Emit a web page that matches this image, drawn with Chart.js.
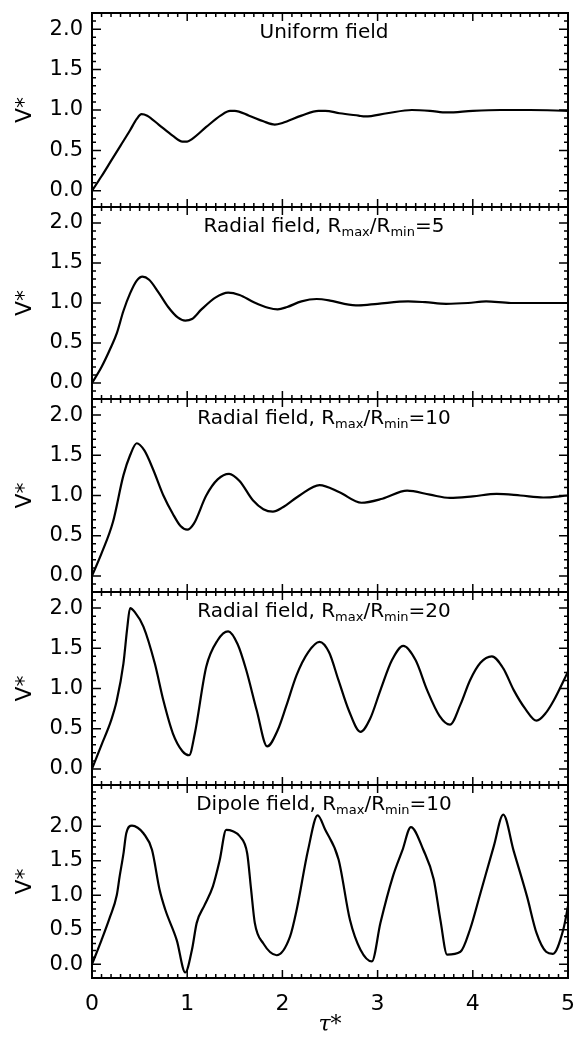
<!DOCTYPE html>
<html>
<head>
<meta charset="utf-8">
<script src="https://cdn.jsdelivr.net/npm/chart.js@4"></script>
<style>
  html, body { margin: 0; padding: 0; background: #fff; }
  #wrap { position: relative; width: 575px; height: 1038px; }
  #wrap canvas { position: absolute; left: 0; }
</style>
</head>
<body>
<div id="wrap"></div>
<script>
// tau* / V* readings, one pair per panel
const tauUniform = [0,0.1,0.2,0.3,0.4,0.47,0.52,0.58,0.7,0.85,0.95,1.0,1.05,1.2,1.35,1.45,1.5,1.65,1.8,1.92,2.0,2.2,2.38,2.45,2.6,2.8,2.87,3.1,3.36,3.55,3.73,4.0,4.29,4.6,5.0];
const vUniform   = [0,0.18,0.37,0.56,0.75,0.89,0.95,0.93,0.82,0.68,0.61,0.61,0.64,0.79,0.93,0.99,0.99,0.93,0.86,0.82,0.84,0.93,0.99,0.99,0.96,0.93,0.92,0.96,1.0,0.99,0.97,0.99,1.0,1.0,0.99];

const tauRadial5 = [0,0.1,0.2,0.26,0.33,0.4,0.47,0.53,0.6,0.7,0.8,0.9,0.98,1.05,1.15,1.3,1.43,1.55,1.7,1.85,1.95,2.05,2.2,2.36,2.5,2.65,2.8,3.0,3.32,3.5,3.72,3.95,4.14,4.4,4.7,5.0];
const vRadial5   = [0,0.2,0.45,0.62,0.9,1.12,1.28,1.33,1.29,1.13,0.95,0.82,0.78,0.8,0.92,1.07,1.13,1.1,1.01,0.94,0.92,0.95,1.02,1.05,1.03,0.99,0.97,0.99,1.02,1.01,0.99,1.0,1.02,1.0,1.0,1.0];

const tauRadial10 = [0,0.1,0.22,0.33,0.4,0.47,0.55,0.64,0.75,0.85,0.93,1.0,1.07,1.2,1.32,1.44,1.55,1.69,1.8,1.9,2.0,2.18,2.39,2.6,2.83,3.05,3.31,3.55,3.76,4.0,4.25,4.5,4.74,5.0];
const vRadial10   = [0,0.28,0.67,1.25,1.5,1.65,1.56,1.33,1.0,0.77,0.62,0.575,0.65,1.0,1.2,1.27,1.18,0.94,0.83,0.8,0.85,1.0,1.13,1.04,0.91,0.96,1.06,1.01,0.97,0.99,1.02,1.0,0.975,1.0];

const tauRadial20 = [0,0.1,0.2,0.26,0.33,0.37,0.40,0.45,0.54,0.66,0.75,0.85,0.95,1.02,1.08,1.2,1.32,1.43,1.53,1.62,1.73,1.84,1.95,2.04,2.15,2.27,2.39,2.49,2.59,2.7,2.82,2.92,3.03,3.15,3.27,3.4,3.52,3.65,3.76,3.87,3.97,4.08,4.2,4.32,4.43,4.55,4.67,4.77,4.85,5.0];
const vRadial20   = [0,0.3,0.6,0.85,1.31,1.75,2.0,1.95,1.77,1.31,0.85,0.44,0.22,0.17,0.44,1.27,1.6,1.71,1.55,1.23,0.73,0.28,0.48,0.78,1.17,1.45,1.58,1.45,1.1,0.72,0.46,0.62,0.98,1.35,1.53,1.35,0.98,0.66,0.55,0.8,1.1,1.32,1.4,1.25,0.98,0.75,0.6,0.7,0.85,1.21];

const tauDipole10 = [0,0.1,0.19,0.26,0.29,0.33,0.36,0.42,0.48,0.54,0.63,0.71,0.77,0.89,0.98,1.05,1.1,1.18,1.27,1.34,1.41,1.48,1.55,1.63,1.67,1.71,1.8,1.94,2.08,2.15,2.27,2.37,2.45,2.59,2.71,2.82,2.94,3.03,3.16,3.26,3.35,3.48,3.59,3.66,3.73,3.87,3.97,4.08,4.22,4.32,4.43,4.57,4.67,4.77,4.84,4.95,5.0];
const vDipole10   = [0,0.35,0.69,1.0,1.27,1.6,1.9,2.01,1.98,1.9,1.66,1.08,0.79,0.35,-0.12,0.21,0.6,0.85,1.13,1.5,1.95,1.93,1.86,1.61,1.1,0.6,0.3,0.13,0.4,0.79,1.66,2.16,1.95,1.52,0.64,0.21,0.04,0.6,1.27,1.65,1.99,1.66,1.23,0.64,0.14,0.18,0.5,1.03,1.71,2.17,1.64,0.98,0.45,0.18,0.15,0.5,0.84];

const tauTicks = [0, 1, 2, 3, 4, 5];
const vTicks = [0, 0.5, 1.0, 1.5, 2.0];

// title pieces: [text, isSubscript]
const panelTitles = [
  [['Uniform field', 0]],
  [['Radial field, R', 0], ['max', 1], ['/R', 0], ['min', 1], ['=5', 0]],
  [['Radial field, R', 0], ['max', 1], ['/R', 0], ['min', 1], ['=10', 0]],
  [['Radial field, R', 0], ['max', 1], ['/R', 0], ['min', 1], ['=20', 0]],
  [['Dipole field, R', 0], ['max', 1], ['/R', 0], ['min', 1], ['=10', 0]]
];

const panels = [
  [tauUniform, vUniform],
  [tauRadial5, vRadial5],
  [tauRadial10, vRadial10],
  [tauRadial20, vRadial20],
  [tauDipole10, vDipole10]
];

// layout
const panelTops = [13, 207, 399, 592, 785];
const panelBottom = 978;
const yTop = [2.2, 2.2, 2.2, 2.2, 2.6];
const pad = 12;
const xAxisBox = 60;

Chart.defaults.font.family = "'DejaVu Sans', sans-serif";
Chart.defaults.color = '#000';

const frame = {
  id: 'frame',
  afterDatasetsDraw(chart, args, opts) {
    const { ctx, chartArea: a, scales: { x, y } } = chart;
    ctx.save();
    ctx.strokeStyle = '#000';
    ctx.lineWidth = 1.5;
    ctx.beginPath();
    for (let k = 0; k <= 50; k++) {
      const px = x.getPixelForValue(k / 10);
      const len = k % 10 === 0 ? 8 : 4;
      ctx.moveTo(px, a.bottom); ctx.lineTo(px, a.bottom - len);
      ctx.moveTo(px, a.top); ctx.lineTo(px, a.top + len);
    }
    for (let k = Math.ceil(y.min * 10 - 1e-6); k <= Math.floor(y.max * 10 + 1e-6); k++) {
      const py = y.getPixelForValue(k / 10);
      const len = (k % 5 === 0 && k >= 0 && k <= 20) ? 9 : 4;
      ctx.moveTo(a.left, py); ctx.lineTo(a.left + len, py);
      ctx.moveTo(a.right, py); ctx.lineTo(a.right - len, py);
    }
    ctx.stroke();
    ctx.lineWidth = 2;
    ctx.strokeRect(a.left, a.top, a.right - a.left, a.bottom - a.top);

    // panel title with subscripts
    const mainFont = "20px 'DejaVu Sans'";
    const subFont = "13px 'DejaVu Sans'";
    let w = 0;
    opts.parts.forEach(([t, sub]) => { ctx.font = sub ? subFont : mainFont; w += ctx.measureText(t).width; });
    let cx = (a.left + a.right) / 2 - 6 - w / 2;
    const base = a.top + 25;
    ctx.fillStyle = '#000';
    ctx.textBaseline = 'alphabetic';
    ctx.textAlign = 'left';
    opts.parts.forEach(([t, sub]) => {
      ctx.font = sub ? subFont : mainFont;
      ctx.fillText(t, cx, sub ? base + 4 : base);
      cx += ctx.measureText(t).width;
    });
    ctx.restore();
  }
};

const wrap = document.getElementById('wrap');

panels.forEach(([tau, v], i) => {
  const last = i === panels.length - 1;
  const bottom = last ? panelBottom : panelTops[i + 1];
  const h = (bottom - panelTops[i]) + pad + (last ? xAxisBox : pad);
  const canvas = document.createElement('canvas');
  canvas.width = 575;
  canvas.height = h;
  canvas.style.top = (panelTops[i] - pad) + 'px';
  canvas.style.width = '575px';
  canvas.style.height = h + 'px';
  wrap.appendChild(canvas);

  new Chart(canvas, {
    type: 'line',
    data: {
      datasets: [{
        data: tau.map((t, k) => ({ x: t, y: v[k] })),
        borderColor: '#000',
        borderWidth: 2.2,
        pointRadius: 0,
        cubicInterpolationMode: 'monotone',
        fill: false
      }]
    },
    options: {
      responsive: false,
      animation: false,
      events: [],
      layout: { padding: { left: 0, right: 7, top: pad, bottom: last ? 0 : pad } },
      plugins: {
        legend: { display: false },
        tooltip: { enabled: false },
        frame: { parts: panelTitles[i] }
      },
      scales: {
        x: {
          type: 'linear',
          min: 0,
          max: 5,
          display: last,
          grid: { display: false, drawTicks: false, tickLength: 0 },
          border: { display: false },
          afterBuildTicks: s => { s.ticks = tauTicks.map(t => ({ value: t })); },
          afterFit: s => {
            s.height = last ? xAxisBox : 0;
            s.paddingLeft = 0; s.paddingRight = 0;
          },
          ticks: { font: { size: 22 }, padding: 13, maxRotation: 0, callback: val => String(val) },
          title: { display: true, text: 'τ*', font: { family: "'DejaVu Serif'", style: 'italic', size: 22 }, padding: { top: 0, bottom: 0 } }
        },
        y: {
          type: 'linear',
          min: -0.2,
          max: yTop[i],
          grid: { display: false, drawTicks: false, tickLength: 0 },
          border: { display: false },
          afterBuildTicks: s => { s.ticks = vTicks.map(t => ({ value: t })); },
          afterFit: s => {
            s.width = 92;
            s.paddingTop = 0; s.paddingBottom = 0;
          },
          ticks: { font: { size: 21 }, padding: 9, callback: val => val.toFixed(1) },
          title: { display: true, text: 'V*', font: { size: 22 }, padding: { top: 12, bottom: 0 } }
        }
      }
    },
    plugins: [frame]
  });
});
</script>
</body>
</html>
